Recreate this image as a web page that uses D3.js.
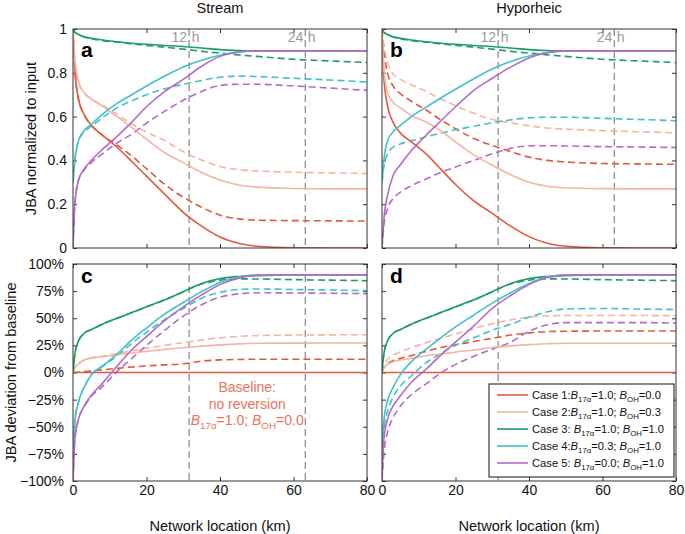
<!DOCTYPE html>
<html>
<head>
<meta charset="utf-8">
<script src="https://cdn.jsdelivr.net/npm/d3@7"></script>
<style>
  body { margin: 0; background: #fff; }
  text { font-family: "Liberation Sans", Arial, Helvetica, sans-serif; }
</style>
</head>
<body>
<svg id="chart" width="685" height="534"></svg>
<script>
// network location (km) of every sample
const km = [0, 0.5, 1.5, 3, 5, 8, 12, 16, 20, 25, 30, 35, 40, 45, 50, 60, 70, 80];

const caseColors = ['#e3573f', '#f5b4a2', '#1f9c6e', '#42c1c9', '#b46ac6'];
const casePrefix = ['Case 1:', 'Case 2:', 'Case 3: ', 'Case 4:', 'Case 5: '];
const caseB17 = ['1.0', '1.0', '1.0', '0.3', '0.0'];
const caseBOH = ['0.0', '0.3', '1.0', '1.0', '1.0'];

// a: stream, normalized to input
const streamSolid = [
  [1, 0.82, 0.68, 0.61, 0.56, 0.515, 0.46, 0.395, 0.328, 0.245, 0.163, 0.10, 0.05, 0.022, 0.008, 0.001, 0, 0],
  [1, 0.86, 0.76, 0.71, 0.68, 0.648, 0.60, 0.55, 0.497, 0.435, 0.39, 0.345, 0.31, 0.288, 0.278, 0.272, 0.27, 0.27],
  [1, 0.985, 0.975, 0.965, 0.958, 0.95, 0.942, 0.935, 0.93, 0.925, 0.92, 0.913, 0.906, 0.902, 0.9, 0.9, 0.9, 0.9],
  [0.3, 0.4, 0.49, 0.535, 0.565, 0.61, 0.66, 0.70, 0.74, 0.785, 0.826, 0.857, 0.88, 0.895, 0.9, 0.9, 0.9, 0.9],
  [0, 0.2, 0.31, 0.36, 0.40, 0.45, 0.51, 0.575, 0.645, 0.715, 0.77, 0.83, 0.875, 0.895, 0.9, 0.9, 0.9, 0.9]
];
const streamDashed = [
  [1, 0.82, 0.68, 0.61, 0.56, 0.515, 0.47, 0.42, 0.362, 0.29, 0.232, 0.186, 0.15, 0.133, 0.127, 0.125, 0.124, 0.123],
  [1, 0.86, 0.76, 0.71, 0.68, 0.652, 0.61, 0.565, 0.53, 0.49, 0.44, 0.402, 0.372, 0.358, 0.352, 0.346, 0.343, 0.34],
  [1, 0.985, 0.975, 0.963, 0.955, 0.947, 0.94, 0.932, 0.925, 0.917, 0.908, 0.898, 0.89, 0.882, 0.875, 0.862, 0.854, 0.847],
  [0.3, 0.4, 0.49, 0.53, 0.555, 0.595, 0.64, 0.672, 0.70, 0.727, 0.748, 0.765, 0.78, 0.785, 0.783, 0.775, 0.767, 0.758],
  [0, 0.2, 0.31, 0.355, 0.39, 0.43, 0.48, 0.52, 0.57, 0.625, 0.675, 0.715, 0.742, 0.748, 0.748, 0.74, 0.73, 0.72]
];

// b: hyporheic, normalized to input
const hypoSolid = [
  [1, 0.78, 0.65, 0.575, 0.525, 0.485, 0.43, 0.36, 0.29, 0.215, 0.158, 0.10, 0.052, 0.022, 0.008, 0.001, 0, 0],
  [1, 0.82, 0.71, 0.665, 0.64, 0.605, 0.575, 0.535, 0.485, 0.425, 0.378, 0.335, 0.30, 0.282, 0.275, 0.271, 0.27, 0.27],
  [1, 0.985, 0.975, 0.965, 0.958, 0.95, 0.942, 0.935, 0.93, 0.925, 0.92, 0.913, 0.906, 0.902, 0.9, 0.9, 0.9, 0.9],
  [0.3, 0.4, 0.49, 0.53, 0.56, 0.60, 0.643, 0.685, 0.725, 0.773, 0.817, 0.852, 0.877, 0.893, 0.9, 0.9, 0.9, 0.9],
  [0, 0.13, 0.24, 0.33, 0.38, 0.445, 0.515, 0.58, 0.645, 0.72, 0.775, 0.826, 0.868, 0.892, 0.9, 0.9, 0.9, 0.9]
];
const hypoDashed = [
  [1, 0.9, 0.8, 0.74, 0.705, 0.67, 0.63, 0.585, 0.545, 0.50, 0.468, 0.44, 0.415, 0.40, 0.393, 0.386, 0.384, 0.382],
  [1, 0.93, 0.85, 0.795, 0.77, 0.745, 0.715, 0.68, 0.65, 0.615, 0.587, 0.572, 0.558, 0.548, 0.543, 0.536, 0.531, 0.526],
  [1, 0.985, 0.975, 0.963, 0.955, 0.947, 0.94, 0.932, 0.925, 0.917, 0.908, 0.898, 0.89, 0.882, 0.875, 0.862, 0.854, 0.847],
  [0.3, 0.37, 0.43, 0.46, 0.475, 0.49, 0.508, 0.525, 0.54, 0.556, 0.572, 0.585, 0.594, 0.597, 0.597, 0.592, 0.587, 0.581],
  [0, 0.1, 0.18, 0.225, 0.255, 0.285, 0.315, 0.345, 0.37, 0.40, 0.43, 0.455, 0.466, 0.467, 0.466, 0.463, 0.461, 0.459]
];

// c: stream, deviation from baseline (%)
const streamDevSolid = [
  [0, 0, 0, 0, 0, 0, 0, 0, 0, 0, 0, 0, 0, 0, 0, 0, 0, 0],
  [0, 4, 8, 11.5, 13.3, 14.5, 16.3, 18, 19.5, 21.3, 22.8, 24.3, 25.5, 26.4, 26.9, 27.1, 27.2, 27.2],
  [0, 17, 29, 36, 39.5, 44.5, 50, 55.2, 60.5, 67, 74.5, 82, 86.5, 88.5, 89.5, 90, 90, 90],
  [-70, -45, -27, -14, -2, 6, 17, 30, 41, 54, 64.5, 74.5, 83, 88, 89.5, 90, 90, 90],
  [-100, -62, -43, -31, -21, -10, 6, 21, 33, 48, 60.5, 71.5, 81, 87, 89.5, 90, 90, 90]
];
const streamDevDashed = [
  [0, 0, 0.3, 0.8, 1.5, 2.5, 3.8, 5, 6, 7, 8, 10.5, 11.6, 12, 12.2, 12.2, 12.2, 12.2],
  [0, 4, 8, 11.5, 13.5, 15, 17.5, 20, 22.5, 25, 27.5, 30, 32, 33.3, 34, 34.5, 34.7, 34.8],
  [0, 17, 29, 36, 39.5, 44.5, 50, 55.2, 60.5, 67, 74.5, 81.5, 85, 86.3, 86.2, 85.6, 85.1, 84.6],
  [-70, -45, -27, -14, -2, 5.5, 15.5, 27, 37, 49, 59, 68.5, 74, 76.5, 77, 76.5, 76, 75.5],
  [-100, -62, -43, -32, -22, -13, 1, 13, 25, 39, 52, 62.5, 69.5, 72.5, 73.5, 73.3, 73, 72.7]
];

// d: hyporheic, deviation from baseline (%)
const hypoDevSolid = [
  [0, 0, 0, 0, 0, 0, 0, 0, 0, 0, 0, 0, 0, 0, 0, 0, 0, 0],
  [0, 4, 7.5, 10, 11.5, 13, 15.5, 17, 18.8, 20.7, 23, 24.5, 25.7, 26.5, 27, 27, 27, 27],
  [0, 17, 29, 36, 39.5, 44.5, 50, 55.2, 60.5, 67, 74.5, 82, 86.5, 88.5, 89.5, 90, 90, 90],
  [-70, -45, -26, -14, -2, 10, 21.5, 32, 42, 53, 64, 73.5, 82, 88, 90, 90, 90, 90],
  [-100, -62, -43, -31, -21.5, -9, 3, 16, 28, 43, 59, 71, 81, 87.5, 89.5, 90, 90, 90]
];
const hypoDevDashed = [
  [0, 4, 8, 11, 13, 15.5, 19.5, 23, 25.5, 28.5, 31.5, 34.5, 36.5, 37.7, 38, 38.2, 38.2, 38.2],
  [0, 6, 12, 16, 19, 23, 27.5, 31.5, 35.5, 40.5, 45, 48.5, 51, 52.3, 52.6, 52.6, 52.5, 52.4],
  [0, 17, 29, 36, 39.5, 44.5, 50, 55.2, 60.5, 67, 74.5, 81.5, 85, 86.3, 86.2, 85.6, 85.1, 84.6],
  [-70, -52, -36, -23, -12.5, -3, 9, 17.5, 25, 32, 39, 44.5, 51, 56, 58.5, 59, 58.5, 58],
  [-100, -75, -55, -42, -31, -20.5, -10.5, -0.5, 7.5, 15, 21.5, 28, 38, 44, 46, 46, 46, 45.5]
];

const xTicks = [0, 20, 40, 60, 80];
const normTicks = [0, 0.2, 0.4, 0.6, 0.8, 1];
const devTicks = [-100, -75, -50, -25, 0, 25, 50, 75, 100];
const timeMarks = [{ km: 31.6, label: '12' }, { km: 63.2, label: '24' }];

const svg = d3.select('#chart');
const TICK_FONT = 14;
const LABEL_FONT = 14.6;
const TICK = 4;

const cols = [{ x0: 73, x1: 367 }, { x0: 382, x1: 676 }];
const rows = [{ y0: 29, y1: 248 }, { y0: 264, y1: 481 }];

const panels = [
  { letter: 'a', col: 0, row: 0, solid: streamSolid, dashed: streamDashed, marks: [0, 1], markLabels: true },
  { letter: 'b', col: 1, row: 0, solid: hypoSolid, dashed: hypoDashed, marks: [0, 1], markLabels: true },
  { letter: 'c', col: 0, row: 1, solid: streamDevSolid, dashed: streamDevDashed, marks: [0, 1], markLabels: false },
  { letter: 'd', col: 1, row: 1, solid: hypoDevSolid, dashed: hypoDevDashed, marks: [0], markLabels: false }
];

function fmtDev(d) {
  return (d < 0 ? '\u2212' + Math.abs(d) : d) + '%';
}

// B17α=..; BOH=.. written with italic B and subscripts
function writeCoefs(text, b17, boh, size) {
  const sub = size * 0.7;
  text.append('tspan').attr('font-style', 'italic').text('B');
  text.append('tspan').attr('font-size', sub).attr('dy', size * 0.28).text('17\u03b1');
  text.append('tspan').attr('dy', -size * 0.28).text('=' + b17 + '; ');
  text.append('tspan').attr('font-style', 'italic').text('B');
  text.append('tspan').attr('font-size', sub).attr('dy', size * 0.28).text('OH');
  text.append('tspan').attr('dy', -size * 0.28).text('=' + boh);
}

panels.forEach(p => {
  const { x0, x1 } = cols[p.col];
  const { y0, y1 } = rows[p.row];
  const isDev = p.row === 1;

  const x = d3.scaleLinear().domain([0, 80]).range([x0, x1]);
  const y = isDev
    ? d3.scaleLinear().domain([-100, 100]).range([y1, y0])
    : d3.scaleLinear().domain([0, 1]).range([y1, y0]);
  const yTicks = isDev ? devTicks : normTicks;

  const g = svg.append('g').attr('class', 'panel-' + p.letter);

  const clipId = 'clip-' + p.letter;
  g.append('clipPath').attr('id', clipId)
    .append('rect').attr('x', x0).attr('y', y0).attr('width', x1 - x0).attr('height', y1 - y0);

  // axes with inward ticks on all four sides
  const bottom = g.append('g').attr('transform', `translate(0,${y1})`)
    .call(d3.axisBottom(x).tickValues(xTicks).tickSizeInner(-TICK).tickSizeOuter(0).tickPadding(4)
      .tickFormat(isDev ? d3.format('d') : () => ''));
  const top = g.append('g').attr('transform', `translate(0,${y0})`)
    .call(d3.axisTop(x).tickValues(xTicks).tickSizeInner(-TICK).tickSizeOuter(0).tickFormat(() => ''));
  const left = g.append('g').attr('transform', `translate(${x0},0)`)
    .call(d3.axisLeft(y).tickValues(yTicks).tickSizeInner(-TICK).tickSizeOuter(0).tickPadding(isDev ? 9 : 6)
      .tickFormat(p.col === 0 ? (isDev ? fmtDev : d => String(d)) : () => ''));
  const right = g.append('g').attr('transform', `translate(${x1},0)`)
    .call(d3.axisRight(y).tickValues(yTicks).tickSizeInner(-TICK).tickSizeOuter(0).tickFormat(() => ''));

  [bottom, top, left, right].forEach(ax => {
    ax.select('.domain').remove();
    ax.selectAll('line').attr('stroke', '#333');
    ax.selectAll('text').attr('font-size', TICK_FONT).attr('fill', '#111')
      .attr('font-family', '"Liberation Sans", Arial, sans-serif');
  });

  // 12 h / 24 h travel time markers
  p.marks.forEach(i => {
    const m = timeMarks[i];
    g.append('line')
      .attr('x1', x(m.km)).attr('x2', x(m.km))
      .attr('y1', y0).attr('y2', y1)
      .attr('stroke', '#7a7a7a').attr('stroke-width', 1.1)
      .attr('stroke-dasharray', '7,4');
    if (p.markLabels) {
      g.append('text').attr('x', x(m.km) - 2).attr('y', y0 + 13)
        .attr('text-anchor', 'end').attr('font-size', TICK_FONT).attr('fill', '#9a9a9a').text(m.label);
      g.append('text').attr('x', x(m.km) + 2.5).attr('y', y0 + 13)
        .attr('font-size', TICK_FONT).attr('fill', '#9a9a9a').text('h');
    }
  });

  const line = d3.line()
    .x((d, i) => x(km[i]))
    .y(d => y(d))
    .curve(d3.curveMonotoneX);

  const curves = g.append('g').attr('clip-path', `url(#${clipId})`);

  curves.selectAll('path.dashed')
    .data(p.dashed)
    .join('path')
    .attr('class', 'dashed')
    .attr('d', line)
    .attr('fill', 'none')
    .attr('stroke', (d, i) => caseColors[i])
    .attr('stroke-width', 1.6)
    .attr('stroke-dasharray', '7,4');

  curves.selectAll('path.solid')
    .data(p.solid)
    .join('path')
    .attr('class', 'solid')
    .attr('d', line)
    .attr('fill', 'none')
    .attr('stroke', (d, i) => caseColors[i])
    .attr('stroke-width', 1.6);

  // box
  g.append('rect')
    .attr('x', x0).attr('y', y0).attr('width', x1 - x0).attr('height', y1 - y0)
    .attr('fill', 'none').attr('stroke', '#333').attr('stroke-width', 1);

  g.append('text')
    .attr('x', x0 + 8).attr('y', isDev ? y0 + 19 : y0 + 28)
    .attr('font-size', 21).attr('font-weight', 'bold').attr('fill', '#000')
    .text(p.letter);

  if (isDev) {
    g.append('text')
      .attr('x', (x0 + x1) / 2).attr('y', 531)
      .attr('text-anchor', 'middle').attr('font-size', LABEL_FONT).attr('fill', '#111')
      .text('Network location (km)');
  } else {
    g.append('text')
      .attr('x', (x0 + x1) / 2).attr('y', 13)
      .attr('text-anchor', 'middle').attr('font-size', LABEL_FONT).attr('fill', '#111')
      .text(p.col === 0 ? 'Stream' : 'Hyporheic');
  }

  if (p.col === 0) {
    g.append('text')
      .attr('transform', `translate(${isDev ? 16 : 36},${(y0 + y1) / 2}) rotate(-90)`)
      .attr('text-anchor', 'middle').attr('font-size', LABEL_FONT).attr('fill', '#111')
      .text(isDev ? 'JBA deviation from baseline' : 'JBA normalized to input');
  }

  // baseline note in panel c
  if (p.letter === 'c') {
    const cx = x(47.4);
    const note = g.append('g').attr('fill', '#e9735e').attr('font-size', TICK_FONT).attr('text-anchor', 'middle');
    note.append('text').attr('x', cx).attr('y', 392).text('Baseline:');
    note.append('text').attr('x', cx).attr('y', 409).text('no reversion');
    writeCoefs(note.append('text').attr('x', cx).attr('y', 425), caseB17[0], caseBOH[0], TICK_FONT);
  }

  // legend in panel d
  if (p.letter === 'd') {
    const lg = g.append('g').attr('class', 'legend');
    lg.append('rect')
      .attr('x', 489).attr('y', 384).attr('width', 185).attr('height', 93)
      .attr('fill', '#fff').attr('stroke', '#111').attr('stroke-width', 1);
    const items = lg.selectAll('g.item')
      .data(caseColors)
      .join('g')
      .attr('class', 'item')
      .attr('transform', (d, i) => `translate(0,${395 + i * 17})`);
    items.append('line')
      .attr('x1', 497).attr('x2', 528)
      .attr('stroke', d => d).attr('stroke-width', 1.6);
    items.each(function (d, i) {
      const t = d3.select(this).append('text')
        .attr('x', 532).attr('y', 4).attr('font-size', 11.2).attr('fill', '#111');
      t.append('tspan').text(casePrefix[i]);
      writeCoefs(t, caseB17[i], caseBOH[i], 11.2);
    });
  }
});
</script>
</body>
</html>
